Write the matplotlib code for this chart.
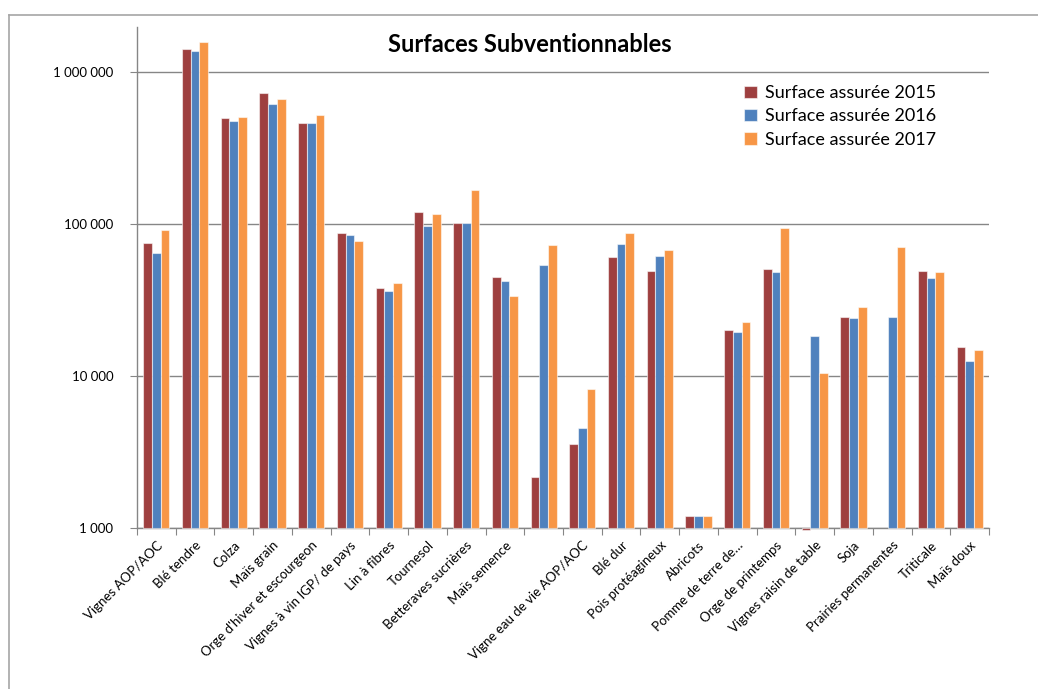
import numpy as np
import matplotlib
matplotlib.use("Agg")
import matplotlib.pyplot as plt
from matplotlib.ticker import FixedLocator, FuncFormatter, NullLocator
from matplotlib.lines import Line2D

categories = [
    "Vignes AOP/AOC", "Blé tendre", "Colza", "Maïs grain",
    "Orge d'hiver et escourgeon", "Vignes à vin IGP/ de pays", "Lin à fibres",
    "Tournesol", "Betteraves sucrières", "Maïs semence", "",
    "Vigne eau de vie AOP/AOC", "Blé dur", "Pois protéagineux", "Abricots",
    "Pomme de terre de…", "Orge de printemps", "Vignes raisin de table",
    "Soja", "Prairies permanentes", "Triticale", "Maïs doux",
]
surface_2015 = [74600, 1420000, 498000, 724000, 459000, 87700, 37800,
                120500, 101000, 45000, 2150, 3560, 60400, 48800, 1200,
                20100, 50400, 970, 24300, np.nan, 48800, 15500]
surface_2016 = [64100, 1380000, 478000, 615000, 459000, 84300, 36400,
                97000, 101000, 42200, 53700, 4530, 74100, 61800, 1200,
                19400, 48300, 18400, 24000, 24300, 44100, 12500]
surface_2017 = [91400, 1570000, 508000, 667000, 524000, 77600, 40900,
                116000, 167000, 33600, 73100, 8200, 87300, 67500, 1200,
                22700, 94700, 10500, 28600, 70600, 48100, 14900]
series_names = ["Surface assurée 2015", "Surface assurée 2016", "Surface assurée 2017"]
series_colors = ["#9E3F3F", "#4F81BD", "#F79646"]
ytick_values = [1000, 10000, 100000, 1000000]

plt.rcParams['font.family'] = ['Lato', 'DejaVu Sans']

fig = plt.figure(figsize=(10.38, 6.89), dpi=100)
fx, fy = 9/1038, 1 - 15/689
fig.lines.append(Line2D([fx, 1.01], [fy, fy], transform=fig.transFigure,
                        color="#A6A6A6", linewidth=1.2, clip_on=False))
fig.lines.append(Line2D([fx, fx], [-0.01, fy], transform=fig.transFigure,
                        color="#A6A6A6", linewidth=1.2, clip_on=False))
ax = fig.add_axes([137/1038, 1 - 528/689, (989 - 137)/1038, (528 - 27)/689])

ax.set_yscale('log')
base = 1000
ymax = 10 ** (3 + 501/152)
ax.set_ylim(base, ymax)
n = len(categories)
x = np.arange(n)
ax.set_xlim(-0.5, n - 0.5)

bw = 0.225
all_series = [surface_2015, surface_2016, surface_2017]
for i, (vals, name, col) in enumerate(zip(all_series, series_names, series_colors)):
    v = np.array(vals, dtype=float)
    bars = ax.bar(x + (i - 1) * bw, v - base, bottom=base, width=bw,
                  color=col, edgecolor=(1, 1, 1, 0.55), linewidth=0.8,
                  label=name, zorder=3)
    for b in bars:
        b.set_clip_on(False)

ax.yaxis.set_major_locator(FixedLocator(ytick_values))
ax.yaxis.set_minor_locator(NullLocator())
ax.yaxis.set_major_formatter(FuncFormatter(lambda v, p: f"{int(round(v)):,}".replace(",", " ")))
ax.grid(axis='y', color="#868686", linewidth=1.0, zorder=0)
ax.set_axisbelow(True)

ax.set_xticks(np.arange(n + 1) - 0.5, minor=False)
ax.set_xticklabels([])
ax.set_xticks(x, minor=True)
ax.set_xticklabels(categories, minor=True, rotation=45, ha='right',
                   rotation_mode='anchor', fontsize=9.5)
ax.tick_params(axis='x', which='minor', length=0, pad=8)
ax.tick_params(axis='x', which='major', length=5, color="#868686", direction='out')
ax.tick_params(axis='y', which='major', length=5, color="#868686", labelsize=9.5, pad=12)

for s in ['top', 'right']:
    ax.spines[s].set_visible(False)
for s in ['left', 'bottom']:
    ax.spines[s].set_color("#868686")
    ax.spines[s].set_linewidth(1.0)

fig.text(530/1038, 1 - 45/689, "Surfaces Subventionnables", ha='center', va='center',
         fontsize=17, fontweight='bold')

ax.legend(loc='upper left', bbox_to_anchor=((737 - 137)/852, 1 - (78 - 27)/501),
          frameon=False, fontsize=13, handlelength=0.7, handleheight=0.7,
          handletextpad=0.45, labelspacing=0.4, borderaxespad=0)

fig.savefig("out.png", dpi=100, facecolor="white")
